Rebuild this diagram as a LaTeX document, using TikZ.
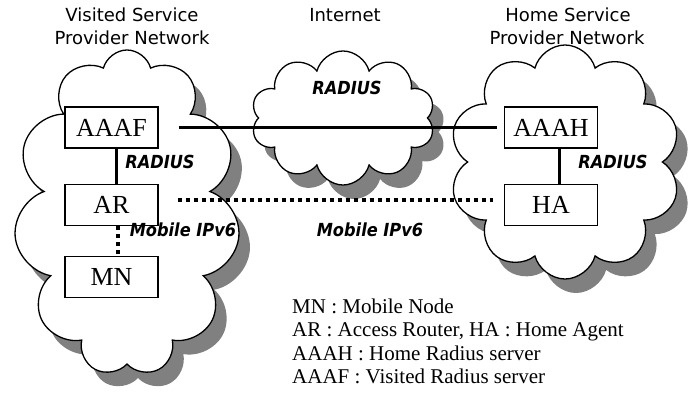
\documentclass[tikz,border=0pt]{standalone}
\usepackage{fontspec}
\setmainfont{Liberation Serif}
\newfontfamily\titlefont{DejaVu Sans}
\newfontfamily\lblfont[FakeStretch=0.9]{DejaVu Sans}
\usetikzlibrary{shapes.symbols,shadows}
\begin{document}
\begin{tikzpicture}[x=1pt,y=-1pt,
  cloudbox/.style={cloud, draw=black, line width=1.3pt, fill=white, inner sep=0pt, aspect=1, cloud puff arc=150,
    drop shadow={shadow xshift=11pt, shadow yshift=-14pt, fill=black!50, opacity=1}},
  netbox/.style={draw=black, line width=1.3pt, fill=white, minimum width=93pt, minimum height=41pt, inner sep=0pt,
    font=\fontsize{26}{28}\selectfont},
  solidlink/.style={line width=3pt},
  dotlink/.style={line width=3.5pt, dash pattern=on 4pt off 4pt},
  lbl/.style={font=\lblfont\bfseries\itshape\fontsize{18}{20}\selectfont, inner sep=0pt},
  ttl/.style={font=\titlefont\fontsize{18}{20}\selectfont, inner sep=0pt},
  legend/.style={font=\fontsize{21}{23}\selectfont, inner sep=0pt, anchor=base west}
]
\useasboundingbox (0,0) rectangle (695,395);
% clouds
\node[cloudbox, cloud puffs=11, minimum width=226pt, minimum height=326pt] (vcloud) at (127,213) {};
\node[cloudbox, cloud puffs=10, minimum width=184pt, minimum height=134pt] (icloud) at (343,118) {};
\node[cloudbox, cloud puffs=10, minimum width=232pt, minimum height=234pt] (hcloud) at (565,162) {};
% titles
\node[ttl] (t1) at (132,15) {Visited Service};
\node[ttl] (t2) at (132,38) {Provider Network};
\node[ttl] (t3) at (345,15) {Internet};
\node[ttl] (t4) at (568,15) {Home Service};
\node[ttl] (t5) at (567,38) {Provider Network};
% boxes
\node[netbox] (AAAF) at (111.5,127.5) {AAAF};
\node[netbox] (AR) at (111.5,205) {AR};
\node[netbox] (MN) at (111.5,277) {MN};
\node[netbox] (AAAH) at (551,127.5) {AAAH};
\node[netbox] (HA) at (551,205) {HA};
% connectors
\draw[solidlink] ([xshift=20pt]AAAF.east) -- ([xshift=-7pt]AAAH.west);
\draw[solidlink] ([xshift=4.5pt]AAAF.south) -- ([xshift=4.5pt]AR.north);
\draw[solidlink] ([xshift=8pt]AAAH.south) -- ([xshift=8pt]HA.north);
\draw[dotlink] ([shift={(19pt,5pt)}]AR.east) -- ([shift={(-11pt,5pt)}]HA.west);
\draw[dotlink] ([xshift=6.5pt]AR.south) -- ([xshift=6.5pt]MN.north);
% labels
\node[lbl] (r1) at (160,162) {RADIUS};
\node[lbl] (r2) at (347,88) {RADIUS};
\node[lbl] (r3) at (613,162) {RADIUS};
\node[lbl] (m1) at (183,230) {Mobile IPv6};
\node[lbl] (m2) at (370,230) {Mobile IPv6};
% legend
\node[legend] (lg1) at (292,313) {MN : Mobile Node};
\node[legend] (lg2) at (292,336.5) {AR : Access Router, HA : Home Agent};
\node[legend] (lg3) at (292,360) {AAAH : Home Radius server};
\node[legend] (lg4) at (292,383.5) {AAAF : Visited Radius server};
\end{tikzpicture}
\end{document}
